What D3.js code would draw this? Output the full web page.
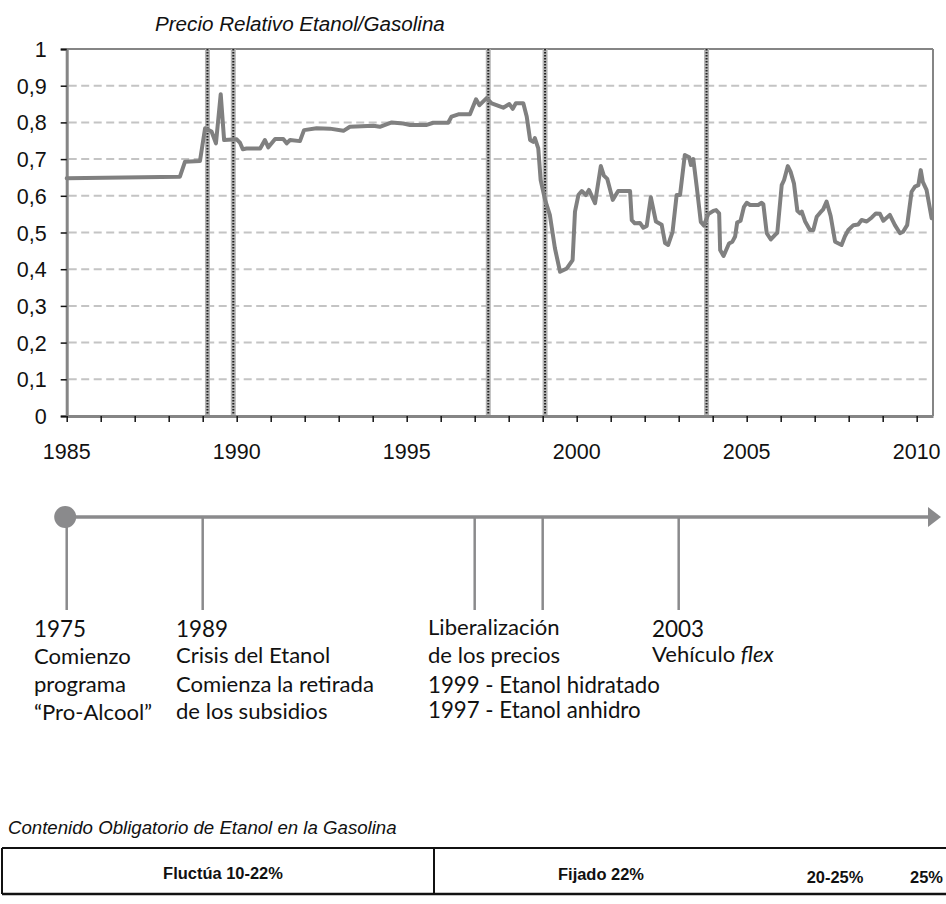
<!DOCTYPE html>
<html>
<head>
<meta charset="utf-8">
<script src="https://cdn.jsdelivr.net/npm/d3@7/dist/d3.min.js"></script>
<style>
  html, body { margin: 0; padding: 0; background: #fff; }
  svg { display: block; }
</style>
</head>
<body>
<svg id="chart" width="946" height="904"></svg>
<script>
// ---------------- DATA ----------------
const chartTitle = "Precio Relativo Etanol/Gasolina";
// decimal year of each point
const dates = [1985.0, 1988.33, 1988.48, 1988.92, 1989.07, 1989.26, 1989.39, 1989.53, 1989.63, 1990.0,
  1990.10, 1990.18, 1990.29, 1990.69, 1990.83, 1990.93, 1991.13, 1991.37, 1991.47, 1991.57,
  1991.86, 1991.98, 1992.35, 1992.74, 1993.14, 1993.33, 1994.02, 1994.21, 1994.56, 1994.90,
  1995.10, 1995.59, 1995.78, 1996.22, 1996.32, 1996.52, 1996.86, 1997.04, 1997.14, 1997.35,
  1997.50, 1997.84, 1998.02, 1998.12, 1998.21, 1998.43, 1998.53, 1998.63, 1998.72, 1998.77,
  1998.87, 1998.94, 1999.07, 1999.21, 1999.36, 1999.51, 1999.71, 1999.88, 1999.95, 2000.05,
  2000.15, 2000.27, 2000.36, 2000.54, 2000.71, 2000.80, 2000.90, 2001.06, 2001.22, 2001.57,
  2001.62, 2001.71, 2001.86, 2001.96, 2002.06, 2002.18, 2002.33, 2002.50, 2002.60, 2002.69,
  2002.82, 2002.94, 2003.04, 2003.18, 2003.31, 2003.36, 2003.43, 2003.53, 2003.65, 2003.74,
  2003.87, 2004.02, 2004.10, 2004.19, 2004.22, 2004.32, 2004.48, 2004.58, 2004.66, 2004.72,
  2004.82, 2004.92, 2005.0, 2005.10, 2005.34, 2005.44, 2005.49, 2005.59, 2005.71, 2005.83,
  2005.90, 2006.03, 2006.10, 2006.21, 2006.29, 2006.39, 2006.49, 2006.57, 2006.62, 2006.72,
  2006.86, 2006.96, 2007.06, 2007.16, 2007.25, 2007.35, 2007.47, 2007.60, 2007.79, 2007.89,
  2007.99, 2008.14, 2008.28, 2008.38, 2008.53, 2008.68, 2008.80, 2008.92, 2009.02, 2009.21,
  2009.36, 2009.51, 2009.60, 2009.72, 2009.85, 2009.95, 2010.05, 2010.12, 2010.18, 2010.29,
  2010.44];
const ratio = [0.648, 0.652, 0.693, 0.695, 0.784, 0.775, 0.743, 0.877, 0.752, 0.754,
  0.744, 0.727, 0.729, 0.729, 0.752, 0.732, 0.755, 0.755, 0.743, 0.752,
  0.749, 0.779, 0.784, 0.783, 0.777, 0.788, 0.791, 0.788, 0.800, 0.797,
  0.793, 0.793, 0.799, 0.799, 0.816, 0.822, 0.822, 0.863, 0.847, 0.866,
  0.852, 0.840, 0.850, 0.837, 0.852, 0.852, 0.816, 0.752, 0.747, 0.757,
  0.729, 0.643, 0.589, 0.548, 0.457, 0.393, 0.402, 0.425, 0.557, 0.602,
  0.613, 0.602, 0.616, 0.580, 0.681, 0.655, 0.646, 0.589, 0.613, 0.613,
  0.534, 0.525, 0.526, 0.513, 0.518, 0.596, 0.530, 0.521, 0.471, 0.466,
  0.502, 0.602, 0.602, 0.711, 0.705, 0.684, 0.700, 0.625, 0.529, 0.519,
  0.550, 0.559, 0.561, 0.552, 0.452, 0.436, 0.470, 0.475, 0.489, 0.527,
  0.532, 0.570, 0.581, 0.575, 0.575, 0.581, 0.577, 0.498, 0.481, 0.493,
  0.499, 0.629, 0.643, 0.681, 0.666, 0.634, 0.559, 0.552, 0.557, 0.530,
  0.507, 0.507, 0.543, 0.554, 0.563, 0.584, 0.545, 0.475, 0.466, 0.490,
  0.507, 0.520, 0.522, 0.534, 0.530, 0.541, 0.552, 0.551, 0.532, 0.548,
  0.520, 0.498, 0.502, 0.520, 0.611, 0.625, 0.629, 0.670, 0.638, 0.616,
  0.539];
const markerYears = [1989.14, 1989.90, 1997.40, 1999.07, 2003.82];
const yTickValues = [0, 0.1, 0.2, 0.3, 0.4, 0.5, 0.6, 0.7, 0.8, 0.9, 1];
const yTickLabels = ["0", "0,1", "0,2", "0,3", "0,4", "0,5", "0,6", "0,7", "0,8", "0,9", "1"];
const xMinorTicks = d3.range(1985, 2011);
const xLabelYears = [1985, 1990, 1995, 2000, 2005, 2010];
const xDomainEnd = 2010.48;

// timeline
const eventAnchorYears = [1985, 1989, 1997, 1999, 2003];
const eventTexts = [
  [{t: "1975", big: true}, {t: "Comienzo"}, {t: "programa"}, {t: "\u201CPro-Alcool\u201D"}],
  [{t: "1989", big: true}, {t: "Crisis del Etanol"}, {t: "Comienza la retirada"}, {t: "de los subsidios"}],
  [{t: "Liberalizaci\u00F3n"}, {t: "de los precios"}, {t: "1999 - Etanol hidratado", big2: true}, {t: "1997 - Etanol anhidro", big2: true}],
  [{t: "2003", big: true}, {t: "Veh\u00EDculo ", it: "flex"}]
];

// mandate table
const tableTitle = "Contenido Obligatorio de Etanol en la Gasolina";
const mandateLabels = ["Fluct\u00FAa 10-22%", "Fijado 22%", "20-25%", "25%"];

// ---------------- LAYOUT ----------------
const svg = d3.select("#chart");
const plot = {left: 66.7, right: 933, top: 49, bottom: 416};
const x = d3.scaleLinear().domain([1985, xDomainEnd]).range([plot.left, plot.right]);
const y = d3.scaleLinear().domain([0, 1]).range([plot.bottom, plot.top]);
const AX = "Liberation Sans, Arial, sans-serif";
const CAL = "Lato, 'Open Sans', sans-serif";

function fit(sel, target) {
  const n = sel.node();
  const w = n.getComputedTextLength();
  const fs = parseFloat(sel.attr("font-size"));
  const nf = fs * target / w;
  sel.attr("font-size", nf);
  return nf;
}

// title
const title = svg.append("text").attr("x", 155).attr("y", 31)
  .attr("font-family", AX).attr("font-style", "italic").attr("font-size", 17)
  .attr("fill", "#111").text(chartTitle);
fit(title, 290);

// gridlines
svg.append("g").selectAll("line").data(yTickValues.filter(v => v > 0 && v < 1)).join("line")
  .attr("x1", plot.left + 2).attr("x2", plot.right - 2)
  .attr("y1", d => y(d)).attr("y2", d => y(d))
  .attr("stroke", "#c4c4c4").attr("stroke-width", 2).attr("stroke-dasharray", "8,4.5");

// frame top/right
svg.append("line").attr("x1", plot.left).attr("x2", plot.right).attr("y1", y(1)).attr("y2", y(1))
  .attr("stroke", "#858585").attr("stroke-width", 2);
svg.append("line").attr("x1", plot.right).attr("x2", plot.right).attr("y1", y(1)).attr("y2", y(0))
  .attr("stroke", "#858585").attr("stroke-width", 2);

// marker dotted lines
const mk = svg.append("g");
markerYears.forEach(m => {
  mk.append("rect").attr("x", x(m) - 2.5).attr("y", plot.top).attr("width", 5).attr("height", plot.bottom - plot.top)
    .attr("fill", "#b5b5b5");
  mk.append("line").attr("x1", x(m)).attr("x2", x(m)).attr("y1", plot.top).attr("y2", plot.bottom)
    .attr("stroke", "#222").attr("stroke-width", 2).attr("stroke-dasharray", "1.5,1.5");
});

// y axis
const yAxis = d3.axisLeft(y).tickValues(yTickValues).tickFormat((d, i) => yTickLabels[i]).tickSize(6).tickPadding(14);
const gy = svg.append("g").attr("transform", `translate(${plot.left},0)`).call(yAxis);
gy.select(".domain").attr("stroke", "#858585").attr("stroke-width", 3);
gy.selectAll(".tick line").attr("stroke", "#111").attr("stroke-width", 1.5);
gy.selectAll(".tick text").attr("font-family", AX).attr("font-size", 21.5).attr("fill", "#111").attr("dy", "0.35em");

// x axis
const xAxis = d3.axisBottom(x).tickValues(xMinorTicks).tickFormat(() => "").tickSize(6).tickSizeOuter(0);
const gx = svg.append("g").attr("transform", `translate(0,${plot.bottom})`).call(xAxis);
gx.select(".domain").attr("stroke", "#858585").attr("stroke-width", 3);
gx.selectAll(".tick line").attr("stroke", "#111").attr("stroke-width", 1.5);
svg.append("g").selectAll("text").data(xLabelYears).join("text")
  .attr("x", d => x(d)).attr("y", 459).attr("text-anchor", "middle")
  .attr("font-family", AX).attr("font-size", 21.5).attr("fill", "#111").text(d => d);

// series line
const pts = dates.map((d, i) => [d, ratio[i]]);
svg.append("path").datum(pts)
  .attr("d", d3.line().x(d => x(d[0])).y(d => y(d[1])))
  .attr("fill", "none").attr("stroke", "#808080").attr("stroke-width", 4)
  .attr("stroke-linejoin", "round").attr("stroke-linecap", "round");

// ---------------- TIMELINE ----------------
const tlY = 517, tlDrop = 610;
const tlColor = "#8a8a8c";
svg.append("line").attr("x1", x(eventAnchorYears[0])).attr("x2", 930).attr("y1", tlY).attr("y2", tlY)
  .attr("stroke", tlColor).attr("stroke-width", 3.5);
svg.append("path").attr("d", `M928,507 L941,517 L928,527 Z`).attr("fill", tlColor);
svg.append("g").selectAll("line").data(eventAnchorYears).join("line")
  .attr("x1", d => x(d)).attr("x2", d => x(d)).attr("y1", tlY).attr("y2", tlDrop)
  .attr("stroke", tlColor).attr("stroke-width", 2.5);
svg.append("circle").attr("cx", x(eventAnchorYears[0]) - 1.5).attr("cy", tlY).attr("r", 11).attr("fill", tlColor);

// event labels
const labelX = [34, 176, 428, 652];
const baselines = [
  [637, 664, 692, 720],
  [637, 663, 692, 719],
  [635, 663, 693, 718],
  [637, 662]
];
const probe = svg.append("text").attr("font-family", CAL).attr("font-size", 20).text("Comienza la retirada");
const bodySize = fit(probe, 198); probe.remove();
const probe2 = svg.append("text").attr("font-family", CAL).attr("font-size", 20).text("1975");
const yearSize = fit(probe2, 52); probe2.remove();
const probe3 = svg.append("text").attr("font-family", CAL).attr("font-size", 20).text("1999 - Etanol hidratado");
const big2Size = fit(probe3, 232); probe3.remove();

eventTexts.forEach((lines, i) => {
  lines.forEach((ln, j) => {
    const t = svg.append("text").attr("x", labelX[i]).attr("y", baselines[i][j])
      .attr("font-family", CAL).attr("fill", "#111")
      .attr("font-size", ln.big ? yearSize : (ln.big2 ? big2Size : bodySize));
    t.append("tspan").text(ln.t);
    if (ln.it) t.append("tspan").attr("font-style", "italic").text(ln.it);
  });
});

// ---------------- TABLE ----------------
const tt = svg.append("text").attr("x", 8).attr("y", 834).attr("font-family", AX)
  .attr("font-style", "italic").attr("font-size", 16).attr("fill", "#111").text(tableTitle);
fit(tt, 389);

svg.append("line").attr("x1", 2).attr("x2", 946).attr("y1", 848).attr("y2", 848).attr("stroke", "#111").attr("stroke-width", 2);
svg.append("line").attr("x1", 2).attr("x2", 946).attr("y1", 894).attr("y2", 894).attr("stroke", "#111").attr("stroke-width", 2.5);
svg.append("line").attr("x1", 2).attr("x2", 2).attr("y1", 848).attr("y2", 894).attr("stroke", "#111").attr("stroke-width", 2);
svg.append("line").attr("x1", 434).attr("x2", 434).attr("y1", 848).attr("y2", 894).attr("stroke", "#111").attr("stroke-width", 2);

const probe4 = svg.append("text").attr("font-family", AX).attr("font-weight", "bold").attr("font-size", 15).text("Fijado 22%");
const cellSize = fit(probe4, 86); probe4.remove();
const cellX = [223, 601, 835, 910];
const cellAnchor = ["middle", "middle", "middle", "start"];
const cellY = [879, 880, 883, 883];
svg.append("g").selectAll("text").data(mandateLabels).join("text")
  .attr("x", (d, i) => cellX[i]).attr("y", (d, i) => cellY[i])
  .attr("text-anchor", (d, i) => cellAnchor[i])
  .attr("font-family", AX).attr("font-weight", "bold").attr("font-size", cellSize).attr("fill", "#111")
  .text(d => d);
</script>
</body>
</html>
